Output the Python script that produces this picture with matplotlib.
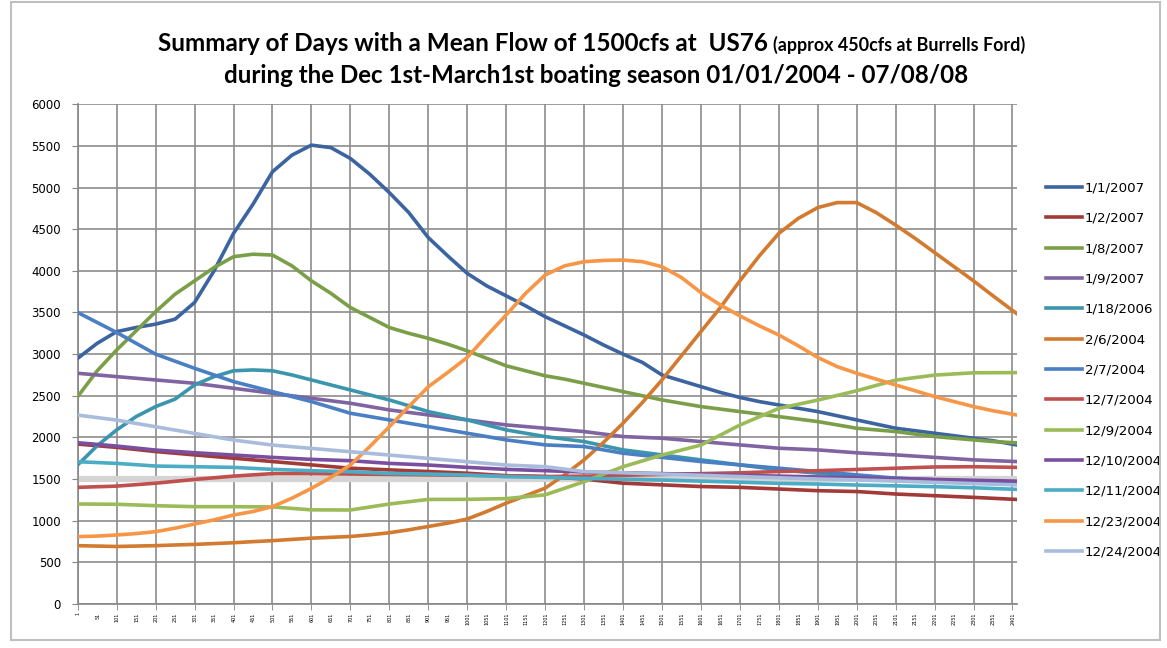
import matplotlib
matplotlib.use("Agg")
import matplotlib.pyplot as plt
from matplotlib.patches import Rectangle

steps = [0, 100, 200, 300, 400, 500, 600, 700, 800, 900, 1000, 1100, 1200,
         1300, 1400, 1500, 1600, 1700, 1800, 1900, 2000, 2100, 2200, 2300, 2410]
# finer sampling for the curves with big peaks
steps_fine = [0, 50, 100, 150, 200, 250, 300, 350, 400, 450, 500, 550, 600, 650, 700, 750,
              800, 850, 900, 950, 1000, 1050, 1100, 1150, 1200, 1250, 1300, 1350, 1400, 1450,
              1500, 1550, 1600, 1650, 1700, 1750, 1800, 1850, 1900, 1950, 2000, 2050, 2100,
              2150, 2200, 2250, 2300, 2350, 2410]

flow_0101_2007 = [2950, 3130, 3270, 3320, 3360, 3420, 3620, 4000, 4450, 4800, 5190, 5390, 5510,
                  5480, 5350, 5160, 4940, 4700, 4400, 4180, 3970, 3820, 3700, 3580, 3450,
                  3340, 3230, 3110, 3000, 2900, 2750, 2680, 2610, 2540, 2480, 2430, 2390, 2350,
                  2310, 2260, 2210, 2160, 2110, 2080, 2050, 2020, 1990, 1960, 1910]
flow_0108_2007 = [2490, 2800, 3050, 3280, 3510, 3720, 3880, 4040, 4170, 4200, 4190, 4060, 3880,
                  3730, 3560, 3440, 3320, 3250, 3190, 3120, 3040, 2950, 2860, 2800, 2740,
                  2700, 2650, 2600, 2550, 2500, 2450, 2410, 2370, 2340, 2310, 2280, 2250, 2220,
                  2190, 2150, 2110, 2090, 2070, 2040, 2010, 1990, 1970, 1950, 1935]
flow_0206_2004 = [700, 695, 690, 695, 700, 708, 715, 725, 735, 748, 760, 775, 790,
                  800, 810, 830, 855, 890, 930, 970, 1020, 1110, 1210, 1300, 1390,
                  1550, 1730, 1940, 2170, 2420, 2690, 2980, 3270, 3560, 3880, 4180, 4450, 4630,
                  4760, 4820, 4820, 4700, 4550, 4390, 4220, 4050, 3880, 3700, 3490]
flow_1223_2004 = [808, 815, 828, 845, 868, 910, 960, 1010, 1068, 1110, 1168, 1270, 1388,
                  1520, 1668, 1890, 2128, 2370, 2608, 2780, 2960, 3220, 3470, 3730, 3950,
                  4060, 4110, 4125, 4130, 4110, 4050, 3920, 3740, 3590, 3460, 3340, 3230, 3100,
                  2960, 2850, 2770, 2700, 2630, 2560, 2490, 2430, 2370, 2320, 2270]
flow_0118_2006 = [1670, 1900, 2090, 2250, 2370, 2460, 2630, 2730, 2800, 2810, 2800, 2750, 2690,
                  2630, 2570, 2510, 2450, 2380, 2310, 2260, 2210, 2150, 2090, 2050, 2010,
                  1980, 1950, 1900, 1850, 1820, 1790, 1760, 1730, 1700, 1670, 1640, 1610, 1590,
                  1570, 1550, 1530, 1520, 1510, 1500, 1490, 1480, 1470, 1460, 1450]

flow_0102_2007 = [1920, 1880, 1830, 1790, 1750, 1710, 1670, 1630, 1610, 1590, 1570, 1540, 1530,
                  1500, 1450, 1430, 1410, 1400, 1380, 1360, 1350, 1320, 1300, 1280, 1255]
flow_0109_2007 = [2770, 2730, 2690, 2650, 2590, 2530, 2470, 2410, 2330, 2270, 2210, 2150, 2110,
                  2070, 2010, 1990, 1950, 1910, 1870, 1850, 1815, 1790, 1760, 1730, 1710]
flow_0207_2004 = [3500, 3260, 3000, 2830, 2670, 2550, 2430, 2290, 2210, 2130, 2050, 1970, 1910,
                  1890, 1810, 1760, 1710, 1670, 1630, 1590, 1550, 1510, 1490, 1475, 1465]
flow_1207_2004 = [1400, 1415, 1450, 1495, 1535, 1565, 1565, 1560, 1555, 1550, 1545, 1540, 1530,
                  1535, 1545, 1555, 1565, 1575, 1590, 1600, 1615, 1630, 1645, 1648, 1640]
flow_1209_2004 = [1200, 1197, 1180, 1168, 1168, 1165, 1130, 1128, 1200, 1255, 1256, 1265, 1310,
                  1468, 1648, 1788, 1908, 2148, 2348, 2448, 2560, 2688, 2748, 2776, 2778]
flow_1210_2004 = [1936, 1896, 1848, 1816, 1788, 1760, 1736, 1720, 1688, 1668, 1640, 1616, 1600,
                  1585, 1575, 1565, 1555, 1545, 1535, 1525, 1515, 1505, 1495, 1485, 1475]
flow_1211_2004 = [1708, 1688, 1656, 1648, 1640, 1616, 1600, 1588, 1568, 1560, 1548, 1528, 1520,
                  1508, 1498, 1488, 1475, 1462, 1448, 1440, 1428, 1418, 1408, 1395, 1376]
flow_1224_2004 = [2268, 2208, 2128, 2048, 1968, 1908, 1868, 1828, 1788, 1748, 1708, 1668, 1648,
                  1590, 1575, 1560, 1545, 1530, 1515, 1500, 1490, 1475, 1460, 1445, 1430]

threshold = 1500

series = [
    ("1/1/2007", steps_fine, flow_0101_2007, "#3c64a0"),
    ("1/2/2007", steps, flow_0102_2007, "#a23b38"),
    ("1/8/2007", steps_fine, flow_0108_2007, "#7b9f48"),
    ("1/9/2007", steps, flow_0109_2007, "#8064a2"),
    ("1/18/2006", steps_fine, flow_0118_2006, "#3b95ad"),
    ("2/6/2004", steps_fine, flow_0206_2004, "#d27a30"),
    ("2/7/2004", steps, flow_0207_2004, "#4a7fc4"),
    ("12/7/2004", steps, flow_1207_2004, "#c0504d"),
    ("12/9/2004", steps, flow_1209_2004, "#9bbb59"),
    ("12/10/2004", steps, flow_1210_2004, "#7a4fa0"),
    ("12/11/2004", steps, flow_1211_2004, "#4bacc6"),
    ("12/23/2004", steps_fine, flow_1223_2004, "#f79646"),
    ("12/24/2004", steps, flow_1224_2004, "#a9bcdb"),
]

x_labels = list(range(1, 2402, 50))
x_grid = list(range(0, 2401, 100))

fig = plt.figure(figsize=(11.67, 6.48), dpi=100)
ax = fig.add_axes([0.0666, 0.068, 0.805, 0.771])

ax.axhline(threshold, color="#d4d4d4", lw=4.5, zorder=1)
for name, xs, vals, col in series:
    ax.plot(xs, vals, color=col, lw=2.6, label=name, zorder=3)

ax.set_xlim(0, 2412)
ax.set_ylim(0, 6000)
ax.set_yticks(range(0, 6001, 500))
ax.set_xticks(x_labels)
ax.set_xticklabels([str(v) for v in x_labels], rotation=90, fontsize=3.5)
ax.set_xticks(x_grid, minor=True)
ax.tick_params(axis="x", which="major", length=0, pad=6)
ax.tick_params(axis="x", which="minor", length=4, color="#868686")
ax.tick_params(axis="y", length=4, color="#868686", labelsize=8.5, pad=8)
ax.grid(axis="y", color="#8c8c8c", lw=1.2)
ax.grid(axis="x", which="minor", color="#8c8c8c", lw=1.2)
ax.set_axisbelow(True)
for side in ["top", "right"]:
    ax.spines[side].set_visible(False)
for side in ["left", "bottom"]:
    ax.spines[side].set_color("#868686")
    ax.spines[side].set_linewidth(1.2)

ax.legend(loc="upper left", bbox_to_anchor=(1.025, 0.856), frameon=False,
          fontsize=9.6, handlelength=2.7, handletextpad=0.2, labelspacing=1.3,
          borderaxespad=0)

# title: main part plus smaller parenthetical
t1 = fig.text(0.135, 0.933, "Summary of Days with a Mean Flow of 1500cfs at  US76 ",
              fontsize=17.5, family="Lato", fontweight="bold", va="center", ha="left")
fig.canvas.draw()
bb = t1.get_window_extent(fig.canvas.get_renderer())
fig.text(bb.x1 / fig.bbox.width, 0.931, "(approx 450cfs at Burrells Ford)",
         fontsize=12.9, family="Lato", fontweight="bold", va="center", ha="left")
fig.text(0.511, 0.884, "during the Dec 1st-March1st boating season 01/01/2004 - 07/08/08",
         fontsize=17.4, family="Lato", fontweight="bold", va="center", ha="center")

fig.patches.append(Rectangle((0.009, 0.012), 0.985, 0.985, transform=fig.transFigure,
                             fill=False, edgecolor="#bfbfbf", lw=1.5))

fig.savefig("out.png", dpi=100)
